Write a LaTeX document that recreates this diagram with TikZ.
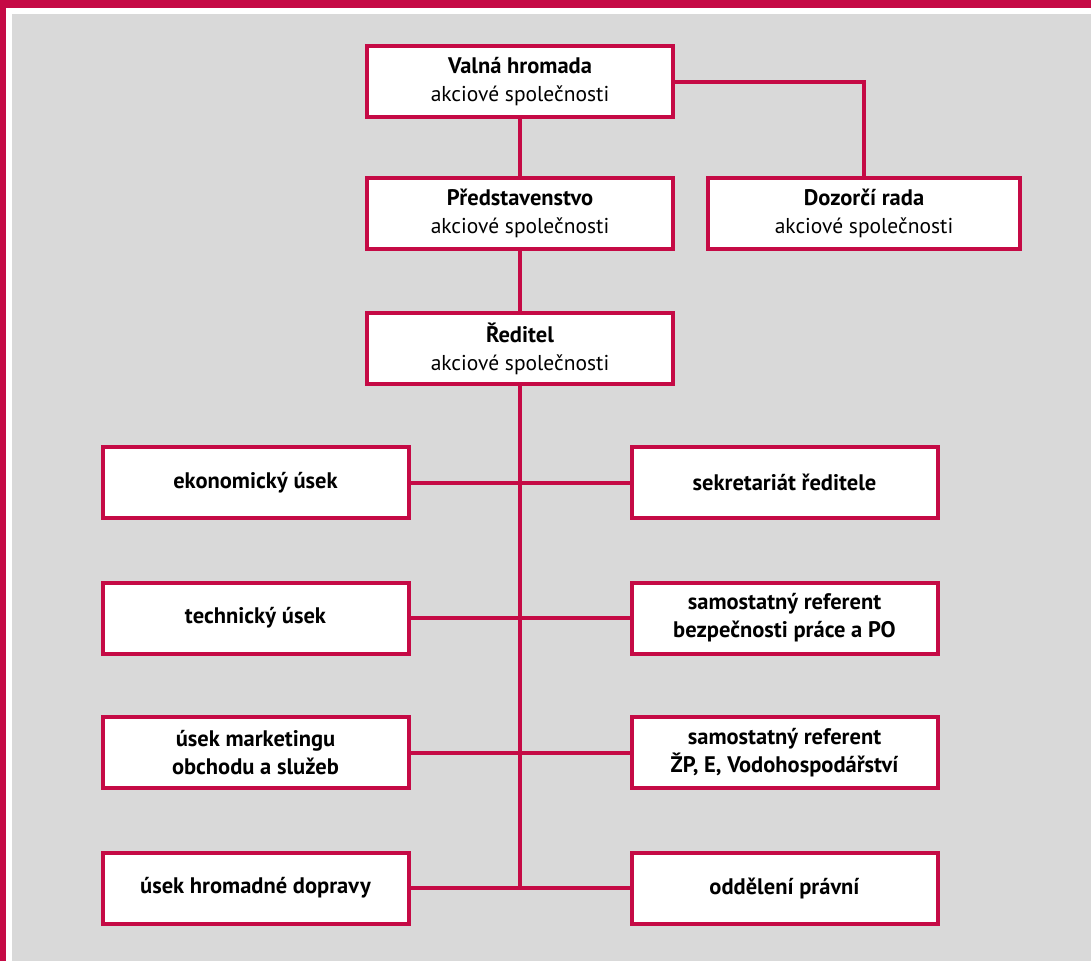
\documentclass[tikz,border=0pt]{standalone}
\usepackage{fontspec}
\setmainfont{PT Sans}
\usetikzlibrary{positioning}
\definecolor{crimson}{RGB}{197,10,69}
\definecolor{panelgray}{RGB}{217,217,217}
\newcommand{\hd}[1]{{\fontsize{22.5}{28}\selectfont\bfseries #1}}
\tikzset{
  box/.style={draw=crimson,line width=4pt,fill=white,minimum width=306pt,
    minimum height=71pt,inner sep=0pt,align=center,
    font=\fontsize{21.5}{28}\selectfont},
  unit/.style={box,font=\fontsize{22.5}{28}\selectfont\bfseries},
  link/.style={draw=crimson,line width=4pt}
}
\begin{document}
\begin{tikzpicture}[x=1pt,y=-1pt]
% frame
\fill[panelgray] (0,0) rectangle (1091,961);
\fill[crimson] (0,0) rectangle (1091,8);
\fill[crimson] (0,0) rectangle (6,961);
\fill[white] (6,8) rectangle (1091,14);
\fill[white] (6,14) rectangle (12,961);
\useasboundingbox (0,0) rectangle (1091,961);
% top
\node[box] (valna) at (520,81.5) {\hd{Valná hromada}\\akciové společnosti};
\node[box] (predst) at (520,213.5) {\hd{Představenstvo}\\akciové společnosti};
\node[box,minimum width=312pt] (dozor) at (864,213) {\hd{Dozorčí rada}\\akciové společnosti};
\node[box] (reditel) at (520,348.5) {\hd{Ředitel}\\akciové společnosti};
% units
\node[unit] (ekon) at (255.5,482.5) {ekonomický úsek};
\node[unit] (sekr) at (784.5,482.5) {sekretariát ředitele};
\node[unit] (tech) at (255.5,618) {technický úsek};
\node[unit] (bozp) at (784.5,618) {samostatný referent\\bezpečnosti práce a PO};
\node[unit] (mark) at (255.5,752.5) {úsek marketingu\\obchodu a služeb};
\node[unit] (zivp) at (784.5,752.5) {samostatný referent\\ŽP, E, Vodohospodářství};
\node[unit] (doprava) at (255.5,888) {úsek hromadné dopravy};
\node[unit] (pravni) at (784.5,888) {oddělení právní};
% lines
\draw[link] (valna) -- (predst);
\draw[link] (predst) -- (reditel);
\draw[link] (valna.east) -| (dozor.north);
\draw[link] (reditel.south) -- (reditel.south |- doprava.east);
\foreach \l/\r in {ekon/sekr,tech/bozp,mark/zivp,doprava/pravni}
  \draw[link] (\l.east) -- (\r.west);
\end{tikzpicture}
\end{document}
